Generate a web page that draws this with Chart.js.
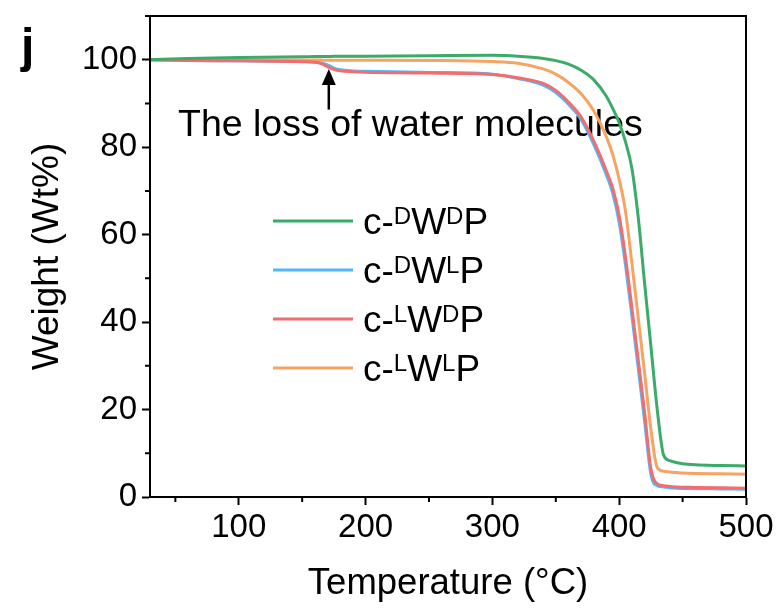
<!DOCTYPE html>
<html lang="en">
<head>
<meta charset="UTF-8">
<title>TGA curves</title>
<script src="https://cdn.jsdelivr.net/npm/chart.js"></script>
<style>
  body { margin: 0; background: #fff; }
  #wrap { width: 779px; height: 610px; }
</style>
</head>
<body>
<div id="wrap"><canvas id="tga" width="779" height="610"></canvas></div>
<script>
// temperatures (°C) at which the curves were read
const temps = [30, 60, 100, 150, 160, 165, 170, 175, 180, 190, 200, 250, 300, 320, 340, 350, 360, 370, 380, 390, 395, 400, 405, 410, 415, 420, 425, 430, 435, 440, 445, 450, 460, 480, 500];

// weight (Wt%)
const wDD = [100, 100.3, 100.5, 100.7, 100.72, 100.74, 100.75, 100.77, 100.78, 100.8, 100.82, 100.9, 101.0, 100.8, 100.3, 99.8, 99.0, 97.6, 95.4, 91.6, 88.8, 85.6, 81.2, 75.2, 64.0, 49.0, 34.5, 20.0, 9.6, 8.3, 7.9, 7.6, 7.35, 7.2, 7.1];
const wDL = [100, 99.85, 99.75, 99.6, 99.5, 99.3, 98.8, 98.1, 97.7, 97.45, 97.35, 97.1, 96.7, 95.7, 94.2, 92.5, 89.8, 86.3, 80.6, 73.6, 69.3, 62.8, 53.0, 41.5, 29.5, 17.5, 5.2, 2.6, 2.3, 2.1, 2.0, 1.95, 1.9, 1.85, 1.8];
const wLD = [100, 99.85, 99.75, 99.55, 99.4, 99.1, 98.4, 97.8, 97.45, 97.25, 97.15, 96.95, 96.6, 95.9, 94.6, 93.0, 90.3, 86.9, 81.4, 74.5, 70.5, 64.3, 54.8, 43.3, 31.4, 19.4, 6.5, 3.0, 2.6, 2.4, 2.3, 2.25, 2.2, 2.1, 2.0];
const wLL = [100, 100, 99.95, 99.92, 99.92, 99.91, 99.9, 99.9, 99.9, 99.9, 99.9, 99.85, 99.6, 99.2, 97.9, 96.7, 94.8, 92.2, 88.3, 82.3, 78.2, 72.6, 65.3, 53.5, 41.0, 28.5, 15.5, 6.7, 5.9, 5.7, 5.6, 5.5, 5.4, 5.3, 5.2];

// legend labels: odd entries are superscripts
const seriesLabels = [
  ['c-', 'D', 'W', 'D', 'P'],
  ['c-', 'D', 'W', 'L', 'P'],
  ['c-', 'L', 'W', 'D', 'P'],
  ['c-', 'L', 'W', 'L', 'P']
];
const seriesColors = ['#3bab69', '#4fb8fa', '#f26d70', '#f5a462'];

const xMajor = [100, 200, 300, 400, 500];
const xMinor = [50, 150, 250, 350, 450];
const yMajor = [0, 20, 40, 60, 80, 100];
const yMinor = [10, 30, 50, 70, 90, 110];

const FONT = '"Liberation Sans", Arial, sans-serif';

function pts(ws) {
  return temps.map((t, i) => ({ x: t, y: ws[i] }));
}

// box, minor ticks, panel letter
const framePlugin = {
  id: 'frame',
  afterDraw(chart) {
    const { ctx, chartArea: a, scales } = chart;
    ctx.save();
    ctx.strokeStyle = '#000';
    ctx.lineWidth = 2;
    ctx.strokeRect(a.left, a.top, a.right - a.left, a.bottom - a.top);
    ctx.beginPath();
    xMinor.forEach(v => {
      const px = scales.x.getPixelForValue(v);
      ctx.moveTo(px, a.bottom);
      ctx.lineTo(px, a.bottom + 5);
    });
    yMinor.forEach(v => {
      const py = scales.y.getPixelForValue(v);
      ctx.moveTo(a.left, py);
      ctx.lineTo(a.left - 5, py);
    });
    ctx.stroke();
    ctx.fillStyle = '#000';
    ctx.font = 'bold 48px ' + FONT;
    ctx.textBaseline = 'alphabetic';
    ctx.fillText('j', 21, 62);
    ctx.restore();
  }
};

// annotation arrow + text
const notePlugin = {
  id: 'note',
  beforeDatasetsDraw(chart) {
    const { ctx, scales } = chart;
    const ax = scales.x.getPixelForValue(171);
    const tip = scales.y.getPixelForValue(97.9);
    const tail = scales.y.getPixelForValue(88.6);
    ctx.save();
    ctx.strokeStyle = '#000';
    ctx.fillStyle = '#000';
    ctx.lineWidth = 2.5;
    ctx.beginPath();
    ctx.moveTo(ax, tail);
    ctx.lineTo(ax, tip + 12);
    ctx.stroke();
    ctx.beginPath();
    ctx.moveTo(ax, tip);
    ctx.lineTo(ax - 7, tip + 16);
    ctx.lineTo(ax + 7, tip + 16);
    ctx.closePath();
    ctx.fill();
    ctx.font = '37.5px ' + FONT;
    ctx.textBaseline = 'alphabetic';
    ctx.fillText('The loss of water molecules', 178, 136);
    ctx.restore();
  }
};

// legend with superscripts
const legendPlugin = {
  id: 'supLegend',
  afterDraw(chart) {
    const { ctx } = chart;
    ctx.save();
    chart.data.datasets.forEach((ds, i) => {
      const y = 221 + 49 * i;
      ctx.strokeStyle = ds.borderColor;
      ctx.lineWidth = 3;
      ctx.beginPath();
      ctx.moveTo(273, y);
      ctx.lineTo(353, y);
      ctx.stroke();
      let x = 363;
      const base = y + 13;
      ctx.fillStyle = '#000';
      ctx.textBaseline = 'alphabetic';
      seriesLabels[i].forEach((part, k) => {
        const sup = k % 2 === 1;
        ctx.font = (sup ? '24px ' : '37px ') + FONT;
        ctx.fillText(part, x, sup ? base - 10 : base);
        x += ctx.measureText(part).width;
      });
    });
    ctx.restore();
  }
};

new Chart(document.getElementById('tga'), {
  type: 'line',
  data: {
    datasets: [
      { label: 'c-DWDP', data: pts(wDD), borderColor: seriesColors[0], order: 1 },
      { label: 'c-DWLP', data: pts(wDL), borderColor: seriesColors[1], order: 2 },
      { label: 'c-LWDP', data: pts(wLD), borderColor: seriesColors[2], order: 1 },
      { label: 'c-LWLP', data: pts(wLL), borderColor: seriesColors[3], order: 1 }
    ]
  },
  options: {
    responsive: false,
    animation: false,
    layout: { padding: { top: 16, right: 33, left: 0, bottom: 0 } },
    elements: {
      point: { radius: 0 },
      line: { borderWidth: 3, cubicInterpolationMode: 'monotone', fill: false }
    },
    plugins: { legend: { display: false }, tooltip: { enabled: false } },
    scales: {
      x: {
        type: 'linear',
        min: 30,
        max: 500,
        afterBuildTicks: s => { s.ticks = xMajor.map(v => ({ value: v })); },
        afterFit: s => { s.height = 113; s.paddingLeft = 0; s.paddingRight = 0; },
        grid: { drawOnChartArea: false, tickLength: 8, tickWidth: 2, tickColor: '#000' },
        border: { display: true, color: '#000', width: 2 },
        ticks: { color: '#000', font: { family: FONT, size: 33 }, padding: 3, maxRotation: 0 },
        title: { display: true, text: 'Temperature (°C)', color: '#000', font: { family: FONT, size: 36.5 }, padding: { top: 0, bottom: 4 } }
      },
      y: {
        min: 0,
        max: 110,
        afterBuildTicks: s => { s.ticks = yMajor.map(v => ({ value: v })); },
        afterFit: s => { s.width = 150; s.paddingTop = 0; s.paddingBottom = 0; },
        grid: { drawOnChartArea: false, tickLength: 8, tickWidth: 2, tickColor: '#000' },
        border: { display: true, color: '#000', width: 2 },
        ticks: { color: '#000', font: { family: FONT, size: 33 }, padding: 5 },
        title: { display: true, text: 'Weight (Wt%)', color: '#000', font: { family: FONT, size: 37 }, padding: { top: 26, bottom: 0 } }
      }
    }
  },
  plugins: [notePlugin, framePlugin, legendPlugin]
});
</script>
</body>
</html>
